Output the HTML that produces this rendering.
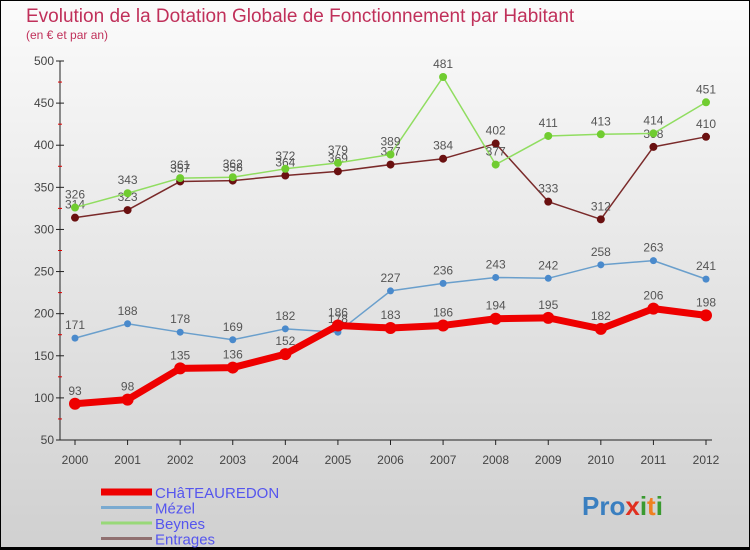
<!DOCTYPE html>
<html><head><meta charset="utf-8"><style>
body{margin:0;width:750px;height:550px;overflow:hidden;font-family:"Liberation Sans",sans-serif}
svg{display:block}
</style></head><body>
<svg id="c" width="750" height="550" xmlns="http://www.w3.org/2000/svg">
<defs><linearGradient id="bg" x1="0" y1="0" x2="0" y2="1"><stop offset="0" stop-color="#fbfbfb"/><stop offset="1" stop-color="#d0d0d0"/></linearGradient></defs>
<rect x="0.5" y="0.5" width="749" height="548" fill="url(#bg)" stroke="#000"/>
<rect x="0" y="547" width="750" height="3" fill="#000"/>
<text x="26" y="22" font-size="19" fill="#c0305a">Evolution de la Dotation Globale de Fonctionnement par Habitant</text>
<text x="26" y="39" font-size="12" fill="#c0305a">(en € et par an)</text>
<g id="axes"></g><g id="series"></g><g id="legend"></g>
<text x="582" y="515" font-size="26" font-weight="bold"><tspan fill="#3a7fc0">Pro</tspan><tspan fill="#e03020">x</tspan><tspan fill="#3a9a30">i</tspan><tspan fill="#f08020">t</tspan><tspan fill="#3a9a30">i</tspan></text>
</svg>
<script>
const years=[2000,2001,2002,2003,2004,2005,2006,2007,2008,2009,2010,2011,2012];
const yTicks=[50,100,150,200,250,300,350,400,450,500];
const chateauredon=[93,98,135,136,152,186,183,186,194,195,182,206,198];
const mezel=[171,188,178,169,182,178,227,236,243,242,258,263,241];
const beynes=[326,343,361,362,372,379,389,481,377,411,413,414,451];
const entrages=[314,323,357,358,364,369,377,384,402,333,312,398,410];
const seriesNames=["CHâTEAUREDON","Mézel","Beynes","Entrages"];
const NS="http://www.w3.org/2000/svg";
const X=i=>75+i*(706-75)/(years.length-1);
const Y=v=>440-(v-50)*379/450;
function mk(t,a,p){const e=document.createElementNS(NS,t);for(const k in a)e.setAttribute(k,a[k]);p.appendChild(e);return e;}
const ax=document.getElementById('axes');
let l=mk('line',{x1:60,y1:61,x2:60,y2:440,stroke:'#222'},ax);

l=mk('line',{x1:60,y1:440,x2:712,y2:440,stroke:'#222'},ax);

yTicks.forEach(v=>{
 mk('line',{x1:56,y1:Y(v),x2:64,y2:Y(v),stroke:'#222'},ax);
 if(v<500) mk('line',{x1:58,y1:Y(v+25),x2:62,y2:Y(v+25),stroke:'#d00'},ax);
 const t=mk('text',{x:54,y:Y(v)+4,'font-size':12,fill:'#444','text-anchor':'end'},ax);t.textContent=v;
 
});
years.forEach((y,i)=>{
 mk('line',{x1:X(i),y1:440,x2:X(i),y2:445,stroke:'#222'},ax);
 const t=mk('text',{x:X(i),y:464,'font-size':12,fill:'#444','text-anchor':'middle'},ax);t.textContent=y;
 
});
const sg=document.getElementById('series');
function draw(data,color,w,r,fill,name){
 const g=mk('g',{},sg);
 
 
 mk('polyline',{points:data.map((v,i)=>X(i)+','+Y(v)).join(' '),fill:'none',stroke:color,'stroke-width':w,'stroke-linejoin':'round'},g);
 data.forEach((v,i)=>{
  const c=mk('circle',{cx:X(i),cy:Y(v),r:r,fill:fill},g);
  
  
  const t=mk('text',{x:X(i),y:Y(v)-9,'font-size':12,fill:'#555','text-anchor':'middle'},g);t.textContent=v;
  
  
 });
}
draw(entrages,'#7a2a2a',1.5,4,'#6a1010','entrages-series');
draw(beynes,'#90dd60',1.5,4,'#70cc30','beynes-series');
draw(mezel,'#6a9fcc',1.5,3.5,'#4a8acc','mezel-series');
draw(chateauredon,'#ee0000',7,6,'#ee0000','chateauredon-series');
const lg=document.getElementById('legend');
const lc=['#ee0000','#7aaad0','#98d878','#907070'],lw=[7,3,3,3];
seriesNames.forEach((n,i)=>{
 const y=492+i*15.5;
 mk('line',{x1:101,y1:y,x2:152,y2:y,stroke:lc[i],'stroke-width':lw[i]},lg);
 const t=mk('text',{x:155,y:y+6,'font-size':15,fill:'#5555ee'},lg);t.textContent=n;
 
 
});
</script>
</body></html>
